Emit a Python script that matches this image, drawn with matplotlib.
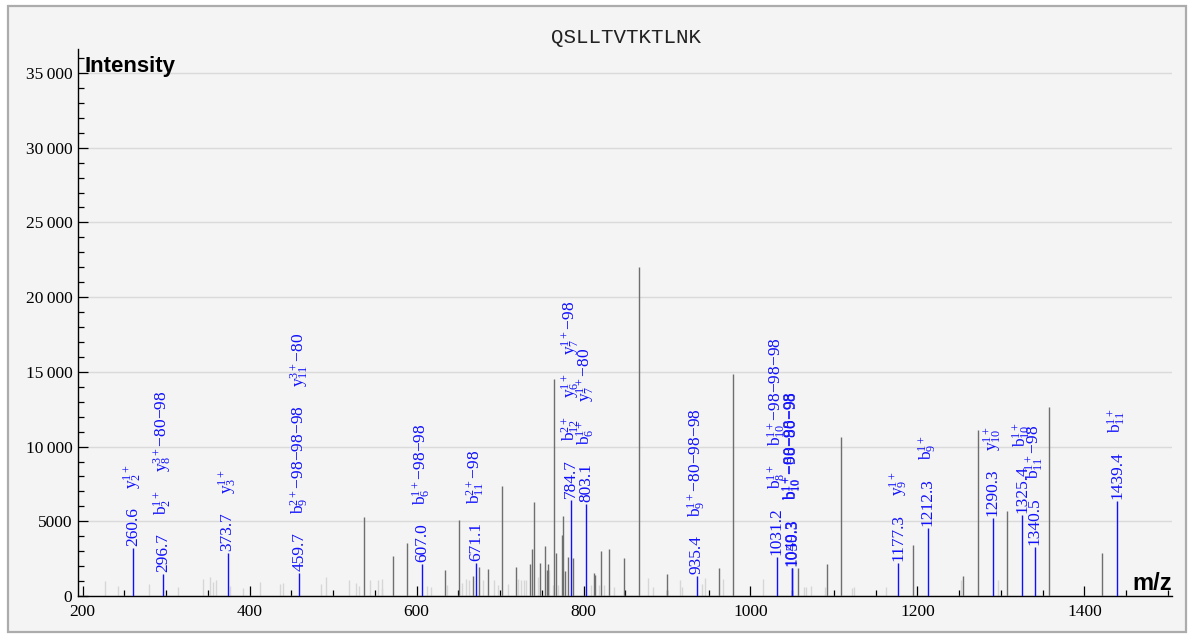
import matplotlib
matplotlib.use("Agg")
import matplotlib.pyplot as plt
from matplotlib.patches import Rectangle
from matplotlib.ticker import MultipleLocator, FuncFormatter

plt.rcParams['mathtext.fontset'] = 'custom'
plt.rcParams['mathtext.rm'] = 'Liberation Serif'
plt.rcParams['mathtext.it'] = 'Liberation Serif'
plt.rcParams['mathtext.bf'] = 'Liberation Serif:bold'
plt.rcParams['mathtext.default'] = 'rm'

title = "QSLLTVTKTLNK"

# unannotated noise peaks (light gray)
noise_mz = [227, 242, 279, 314, 344, 353, 356, 360, 377, 392, 412, 436, 440, 486, 492,
            519, 527, 531, 544, 554, 558, 559, 613, 617, 636, 655, 659, 663, 679, 693,
            697, 710, 721, 725, 729, 731, 745, 759, 763, 770, 809, 818, 825, 837, 877,
            883, 916, 918, 942, 945, 967, 1015, 1064, 1067, 1073, 1089, 1122, 1124,
            1162, 1252, 1297]
noise_int = [1005, 650, 830, 600, 1160, 1270, 940, 1100, 650, 540, 940, 830, 870, 830, 1270,
             1100, 870, 650, 1050, 1050, 540, 1160, 650, 600, 720, 900, 1150, 1050, 1050, 1100,
             720, 830, 1160, 1100, 1050, 1050, 1270, 1720, 720, 720, 720, 720, 720, 600, 1230,
             600, 1050, 600, 830, 1230, 1160, 1160, 600, 600, 650, 600, 560, 600,
             600, 1050, 1050]

# unannotated peaks (gray)
peak_mz = [536.6, 571.4, 588.5, 634.1, 650.4, 668.0, 674.4, 685.2, 702.3, 719.1, 736.3,
           738.3, 740.3, 747.9, 753.8, 756.2, 757.8, 765.0, 767.0, 774.2, 775.8, 777.8,
           781.1, 787.8, 812.2, 813.7, 821.0, 830.9, 848.1, 866.3, 900.4, 962.0, 979.4,
           1057.3, 1091.5, 1108.5, 1194.2, 1254.3, 1272.0, 1307.4, 1358.0, 1421.7]
peak_int = [5290, 2660, 3570, 1720, 5070, 1320, 1940, 1830, 7350, 1940, 2170,
            3170, 6280, 2210, 3350, 1770, 2170, 14500, 2880, 4070, 5340, 1650,
            2610, 2550, 1540, 1390, 2990, 3130, 2570, 22000, 1500, 1880, 14850,
            1880, 2110, 10650, 3400, 1330, 11100, 5680, 12620, 2900]

# annotated peaks (blue)
ann_mz = [260.6, 296.7, 373.7, 459.7, 607.0, 671.1, 784.7, 803.1, 935.4, 1031.2,
          1049.3, 1050.3, 1177.3, 1212.3, 1290.3, 1325.4, 1340.5, 1439.4]
ann_int = [3190, 1450, 2900, 1560, 2120, 2230, 6420, 6130, 1340, 2630,
           1900, 1900, 2230, 4530, 5200, 5420, 3300, 6360]
ann_num = ["260.6", "296.7", "373.7", "459.7", "607.0", "671.1", "784.7", "803.1", "935.4",
           "1031.2", "1049.3", "1050.3", "1177.3", "1212.3", "1290.3", "1325.4", "1340.5",
           "1439.4"]
ann_ions = [
    ["y_{2}^{1+}"],
    ["b_{2}^{1+}", "y_{8}^{3+}-80-98"],
    ["y_{3}^{1+}"],
    ["b_{9}^{2+}-98-98-98", "y_{11}^{3+}-80"],
    ["b_{6}^{1+}-98-98"],
    ["b_{11}^{2+}-98"],
    ["b_{12}^{2+}", "y_{6}^{1+}", "y_{7}^{1+}-98"],
    ["b_{6}^{1+}", "y_{7}^{1+}-80"],
    ["b_{9}^{1+}-80-98-98"],
    ["b_{8}^{1+}", "b_{10}^{1+}-98-98-98"],
    ["b_{10}^{1+}-80-98-98"],
    ["b_{10}^{1+}-98-80-98"],
    ["y_{9}^{1+}"],
    ["b_{9}^{1+}"],
    ["y_{10}^{1+}"],
    ["b_{10}^{1+}"],
    ["b_{11}^{1+}-98"],
    ["b_{11}^{1+}"],
]


def to_math(ion):
    # ordinary (unspaced) minus signs, as in the reference
    return '$' + ion.replace('-', '{-}') + '$'


W, H = 1190, 639
fig = plt.figure(figsize=(W / 100, H / 100), dpi=100, facecolor='white')
fig.patches.append(Rectangle((8 / W, 1 - 632 / H), (1186 - 8) / W, (632 - 6) / H,
                             transform=fig.transFigure, facecolor='#f4f4f4',
                             edgecolor='#acacac', lw=1.6, zorder=-10))

ax = fig.add_axes([78 / W, 1 - 596 / H, (1172 - 78) / W, (596 - 49) / H])
ax.set_facecolor('none')
ax.set_xlim(194.4, 1505)
ax.set_ylim(0, 36607)

for s in ['top', 'right']:
    ax.spines[s].set_visible(False)
for s in ['left', 'bottom']:
    ax.spines[s].set_linewidth(1.0)
    ax.spines[s].set_color('black')

ax.yaxis.grid(True, color='#dadada', lw=1.0)
ax.set_axisbelow(True)

ax.xaxis.set_major_locator(MultipleLocator(200))
ax.xaxis.set_minor_locator(MultipleLocator(50))
ax.yaxis.set_major_locator(MultipleLocator(5000))
ax.yaxis.set_minor_locator(MultipleLocator(1000))
ax.tick_params(which='major', direction='in', length=7.2, width=0.9, labelsize=12.5, pad=6)
ax.tick_params(which='minor', direction='in', length=4.0, width=0.9)
ax.tick_params(axis='y', which='major', pad=4)


def yfmt(v, pos):
    v = int(round(v))
    if v >= 10000:
        return f"{v // 1000}\u2009{v % 1000:03d}"
    return str(v)


ax.yaxis.set_major_formatter(FuncFormatter(yfmt))
for lab in ax.get_xticklabels() + ax.get_yticklabels():
    lab.set_family(['Liberation Serif', 'DejaVu Serif'])

ax.vlines(noise_mz, 0, noise_int, color='#d6d6d6', lw=1.0, zorder=2)
ax.vlines(peak_mz, 0, peak_int, color='#6e6e6e', lw=1.0, zorder=3)
ax.vlines(ann_mz, 0, ann_int, color='#1010ff', lw=1.0, zorder=4)

for mz, inten, num, ions in zip(ann_mz, ann_int, ann_num, ann_ions):
    prev = ax.annotate(num, xy=(mz, inten), xytext=(0, 1.5), textcoords='offset points',
                       rotation=90, ha='center', va='bottom', color='#1010ff',
                       fontsize=12.5, family='Liberation Serif', zorder=5)
    for ion in ions:
        prev = ax.annotate(to_math(ion), xy=(0.5, 1.0), xycoords=prev,
                           xytext=(0, 13), textcoords='offset points',
                           rotation=90, ha='center', va='bottom', color='#1010ff',
                           fontsize=12.5, zorder=5)

fig.text(626 / W, 1 - 43 / H, title, ha='center', va='baseline',
         family='Liberation Mono', fontsize=15, color='#222222')
fig.text(85 / W, 1 - 72 / H, 'Intensity', ha='left', va='baseline',
         family='Liberation Sans', fontweight='bold', fontsize=16)
fig.text(1172 / W, 1 - 590 / H, 'm/z', ha='right', va='baseline',
         family='Liberation Sans', fontweight='bold', fontsize=17)

fig.savefig('out.png', dpi=100, facecolor='white')
